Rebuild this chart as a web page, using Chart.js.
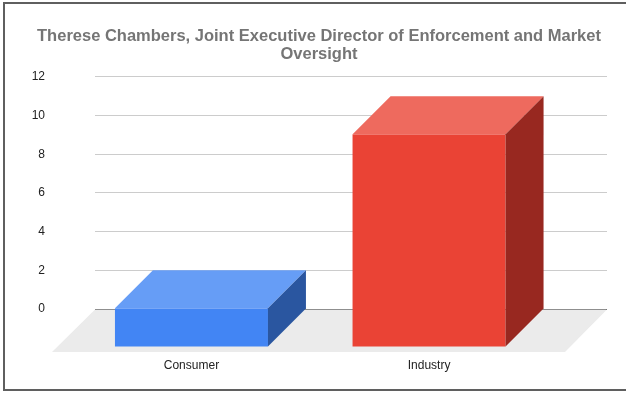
<!DOCTYPE html>
<html>
<head>
<meta charset="utf-8">
<script src="https://cdn.jsdelivr.net/npm/chart.js@4.4.1/dist/chart.umd.min.js"></script>
<style>
  html, body { margin: 0; padding: 0; background: #fff; }
  #wrap { width: 626px; height: 393px; }
</style>
</head>
<body>
<div id="wrap"><canvas id="grafico"></canvas></div>
<script>
const categorias = ['Consumer', 'Industry'];
const valores = [2, 11];
const ticksY = [0, 2, 4, 6, 8, 10, 12];
const coresFrente = ['#4285F4', '#EA4335'];
const coresTopo = ['#669DF6', '#EE6A5E'];
const coresLado = ['#2A56A0', '#982820'];

const PROF = 38; // profundidade do efeito 3D

// chão e moldura
const piso3d = {
  id: 'piso3d',
  beforeDatasetsDraw(chart) {
    const { ctx, chartArea } = chart;
    const y0 = chart.scales.y.getPixelForValue(0);
    ctx.save();
    ctx.fillStyle = '#EBEBEB';
    ctx.beginPath();
    ctx.moveTo(chartArea.left, y0 + 0.5);
    ctx.lineTo(chartArea.right, y0 + 0.5);
    ctx.lineTo(chartArea.right - 42, y0 + 43);
    ctx.lineTo(chartArea.left - 43, y0 + 43);
    ctx.closePath();
    ctx.fill();
    ctx.restore();
  },
  afterDatasetsDraw(chart) {
    const { ctx } = chart;
    const meta = chart.getDatasetMeta(0);
    ctx.save();
    meta.data.forEach((bar, i) => {
      const w = bar.width;
      const L = bar.x - w / 2, R = bar.x + w / 2;
      const top = bar.y, base = bar.base;
      // frente
      ctx.fillStyle = coresFrente[i];
      ctx.fillRect(L, top + PROF, w, base - top);
      // topo
      ctx.fillStyle = coresTopo[i];
      ctx.beginPath();
      ctx.moveTo(L, top + PROF);
      ctx.lineTo(L + PROF, top);
      ctx.lineTo(R + PROF, top);
      ctx.lineTo(R, top + PROF);
      ctx.closePath();
      ctx.fill();
      // lado
      ctx.fillStyle = coresLado[i];
      ctx.beginPath();
      ctx.moveTo(R, top + PROF);
      ctx.lineTo(R + PROF, top);
      ctx.lineTo(R + PROF, base);
      ctx.lineTo(R, base + PROF);
      ctx.closePath();
      ctx.fill();
    });
    ctx.restore();
  },
  afterDraw(chart) {
    const { ctx } = chart;
    ctx.save();
    ctx.strokeStyle = '#5f5f5f';
    ctx.lineWidth = 2;
    ctx.strokeRect(4, 3, 700, 387);
    ctx.restore();
  }
};

new Chart(document.getElementById('grafico'), {
  type: 'bar',
  data: {
    datasets: [{
      label: 'Contagem',
      data: valores.map((v, i) => ({ x: i, y: v })),
      backgroundColor: 'rgba(0,0,0,0)',
      borderWidth: 0,
      barThickness: 153
    }]
  },
  plugins: [piso3d],
  options: {
    responsive: true,
    maintainAspectRatio: false,
    animation: false,
    layout: { padding: { left: 31, right: 19, top: 3, bottom: 18 } },
    plugins: {
      legend: { display: false },
      tooltip: { enabled: false },
      title: {
        display: true,
        text: ['Therese Chambers, Joint Executive Director of Enforcement and Market', 'Oversight'],
        color: '#757575',
        font: { family: 'Arial, "Liberation Sans", sans-serif', size: 16.5, weight: 'bold', lineHeight: 1.06 },
        padding: { top: 25, bottom: 14 }
      }
    },
    scales: {
      x: {
        type: 'linear',
        offset: false,
        min: -0.406,
        max: 1.749,
        afterBuildTicks: (scale) => { scale.ticks = categorias.map((c, i) => ({ value: i })); },
        afterFit: (scale) => { scale.height = 66; },
        grid: { display: false, offset: false },
        border: { display: false },
        ticks: {
          callback: (v) => categorias[v],
          color: '#222',
          padding: 41,
          maxRotation: 0,
          autoSkip: false,
          font: { family: 'Arial, "Liberation Sans", sans-serif', size: 12 }
        }
      },
      y: {
        min: 0,
        max: 12,
        afterBuildTicks: (scale) => { scale.ticks = ticksY.map(v => ({ value: v })); },
        afterFit: (scale) => { scale.width = 64; },
        grid: {
          color: (c) => c.tick && c.tick.value === 0 ? '#333333' : '#CCCCCC',
          drawTicks: false
        },
        border: { display: false },
        ticks: {
          color: '#222',
          padding: 50,
          font: { family: 'Arial, "Liberation Sans", sans-serif', size: 12 }
        }
      }
    }
  }
});
</script>
</body>
</html>
